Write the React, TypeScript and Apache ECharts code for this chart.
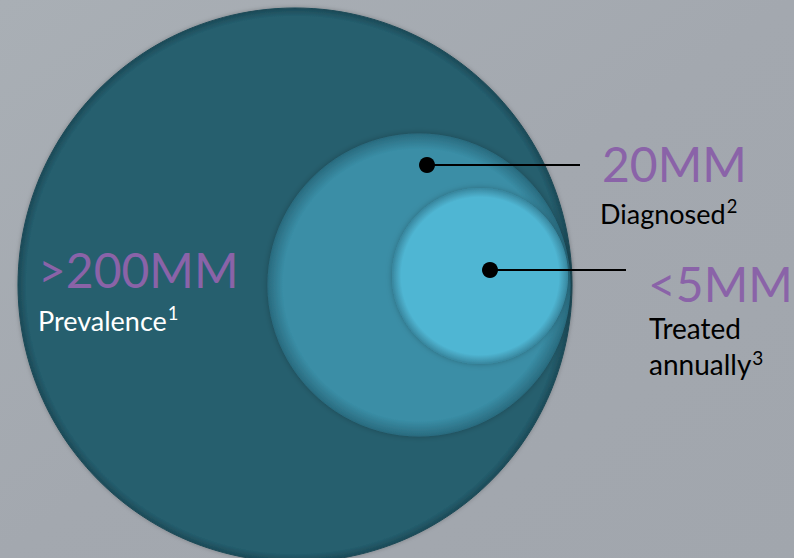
import React, { useEffect, useRef } from "react";
import * as echarts from "echarts";

// Nested population circles (axis units = pixels of the 794x558 canvas)
const populationLabels = ["Prevalence", "Diagnosed", "Treated\nannually"];
const footnoteMarks = ["1", "2", "3"];
const populationValues = [">200MM", "20MM", "<5MM"];
const circleCenterX = [295, 419, 480];
const circleCenterY = [285, 285, 276];
const circleDiameter = [554, 302, 175];

// Callout dots and the ends of their leader lines
const calloutDotX = [427, 490];
const calloutDotY = [165, 270];
const calloutLineEndX = [580, 626];

const W = 794;
const H = 558;

const circleBase = ["#255e6e", "#3a8ea6", "#50b6d3"];
const circleEdge = ["#1c4a57", "#2a6c80", "#3a8aa2"];

function radial(base: string, edge: string, inner: number) {
  return {
    type: "radial",
    x: 0.5,
    y: 0.5,
    r: 0.5,
    colorStops: [
      { offset: 0, color: base },
      { offset: inner, color: base },
      { offset: 1, color: edge },
    ],
  };
}

export default function App() {
  const ref = useRef<HTMLDivElement>(null);
  useEffect(() => {
    document.body.style.margin = "0";
    const chart = echarts.init(ref.current!, null, { renderer: "svg" });
    const font = "Lato, 'Open Sans', sans-serif";
    const purple = "#8a63a8";

    const circleData = circleCenterX.map((x, i) => ({
      value: [x, circleCenterY[i]],
      symbolSize: circleDiameter[i],
      itemStyle: {
        color: radial(circleBase[i], circleEdge[i], i === 0 ? 0.97 : 0.9),
        borderColor: circleEdge[i],
        borderWidth: 1,
        opacity: 1,
        shadowBlur: i === 0 ? 4 : 6,
        shadowColor: "rgba(0,0,0,0.25)",
      },
    }));

    const lineData = calloutDotX.map((x, i) => ({
      coords: [
        [x, calloutDotY[i]],
        [calloutLineEndX[i], calloutDotY[i]],
      ],
    }));

    const valueText = (text: string, x: number, y: number) => ({
      type: "text",
      x,
      y,
      z: 100,
      style: {
        text,
        fill: purple,
        fontFamily: font,
        fontSize: 48,
        align: "left",
        verticalAlign: "middle",
      },
    });

    const labelText = (i: number, x: number, y: number, color: string, size: number) => {
      const lines = populationLabels[i].split("\n");
      const text = lines
        .map((l, k) => (k === lines.length - 1 ? `{t|${l}}{s|${footnoteMarks[i]}}` : `{t|${l}}`))
        .join("\n");
      return {
        type: "text",
        x,
        y,
        z: 100,
        style: {
          text,
          fill: color,
          fontFamily: font,
          fontSize: size,
          align: "left",
          verticalAlign: "top",
          rich: {
            t: { fontFamily: font, fontSize: size, lineHeight: 36, fill: color, verticalAlign: "middle" },
            s: { fontFamily: font, fontSize: size * 0.68, lineHeight: 22, fill: color, verticalAlign: "top", padding: [2, 0, 0, 1] },
          },
        },
      };
    };

    chart.setOption({
      animation: false,
      backgroundColor: new echarts.graphic.LinearGradient(0, 0, 1, 1, [
        { offset: 0, color: "#a9afb5" },
        { offset: 0.5, color: "#a3a8af" },
        { offset: 1, color: "#a1a6ad" },
      ]),
      grid: { left: 0, right: 0, top: 0, bottom: 0 },
      xAxis: { type: "value", min: 0, max: W, show: false },
      yAxis: { type: "value", min: 0, max: H, inverse: true, show: false },
      series: [
        {
          type: "scatter",
          symbol: "circle",
          data: circleData,
          z: 1,
          silent: true,
        },
        {
          type: "lines",
          coordinateSystem: "cartesian2d",
          data: lineData,
          lineStyle: { color: "#000", width: 2, opacity: 1 },
          symbol: "none",
          z: 3,
          silent: true,
        },
        {
          type: "scatter",
          symbol: "circle",
          symbolSize: 16,
          data: calloutDotX.map((x, i) => [x, calloutDotY[i]]),
          itemStyle: { color: "#000", opacity: 1 },
          z: 4,
          silent: true,
        },
      ],
      graphic: [
        valueText(populationValues[0], 38, 269),
        labelText(0, 38, 302, "#ffffff", 27),
        valueText(populationValues[1], 602, 163),
        labelText(1, 600, 195, "#000000", 27),
        valueText(populationValues[2], 648, 283),
        labelText(2, 649, 310, "#000000", 28),
      ],
    });
    return () => chart.dispose();
  }, []);
  return <div ref={ref} style={{ width: W, height: H }} />;
}
